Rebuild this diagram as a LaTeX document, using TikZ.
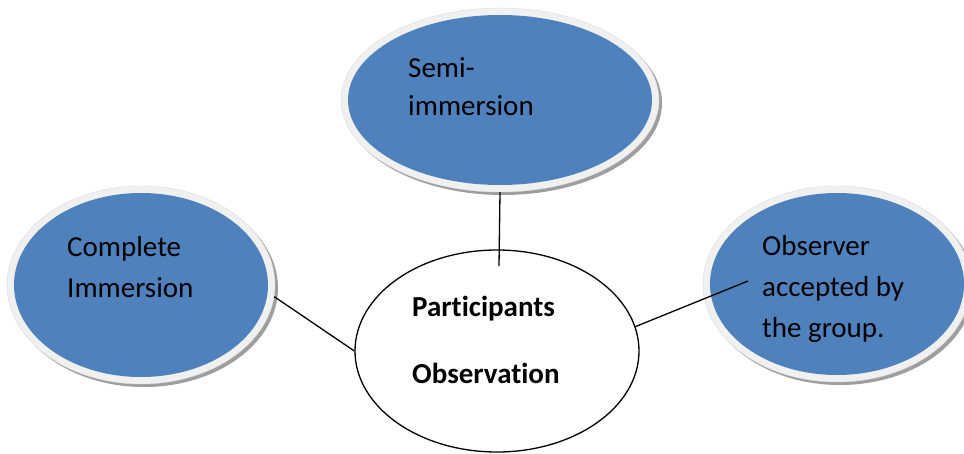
\documentclass[tikz,border=0pt]{standalone}
\usepackage{fontspec}
\setmainfont{Carlito}[Ligatures={NoCommon,NoRare}]
\usetikzlibrary{shapes.geometric}
\definecolor{bubbleblue}{HTML}{4F81BD}
\begin{document}
\begin{tikzpicture}[x=1pt,y=-1pt,
shade/.style={ellipse,inner sep=0,fill=black!38},
rim/.style={ellipse,inner sep=0,fill=black!6,draw=black!14},
blob/.style={ellipse,inner sep=0,fill=bubbleblue},
lbl/.style={inner sep=0,align=left,anchor=base west,font=\fontsize{29}{41}\selectfont},
link/.style={line width=1.3pt}]
\useasboundingbox(0,0)rectangle(964,453);
% semi-immersion
\node[shade,minimum width=318,minimum height=184](semishade)at(503,103){};
\node[rim,minimum width=318,minimum height=184](semirim)at(500,100){};
\node[blob,minimum width=304,minimum height=170](semi)at(500,100){};
% complete immersion
\node[shade,minimum width=268,minimum height=198](fullshade)at(144,288){};
\node[rim,minimum width=268,minimum height=198](fullrim)at(141,285){};
\node[blob,minimum width=254,minimum height=184](full)at(141,285){};
% accepted observer
\node[shade,minimum width=268,minimum height=196](accshade)at(840,287){};
\node[rim,minimum width=268,minimum height=196](accrim)at(837,284){};
\node[blob,minimum width=254,minimum height=182](acc)at(837,284){};
% centre
\node[ellipse,draw,line width=1.3pt,minimum width=284,minimum height=202](core)at(497,351){};
% labels, anchored on their last line
\node[lbl](semitxt)at(408,115){Semi-\\[-3pt]immersion};
\node[lbl](fulltxt)at(67,297){Complete\\Immersion};
\node[lbl](acctxt)at(762,337){Observer\\accepted by\\the group.};
\node[lbl,font=\fontsize{29}{41}\selectfont\bfseries](coretxt)at(412,383){Participants\\[26pt]Observation};
\coordinate(coreN)at(499,266);
\coordinate(accIn)at(748,281);
\draw[link](semirim.south)--(coreN);
\draw[link](fullrim.-5)--(core.west);
\draw[link](core.10)--(accIn);
\end{tikzpicture}
\end{document}
